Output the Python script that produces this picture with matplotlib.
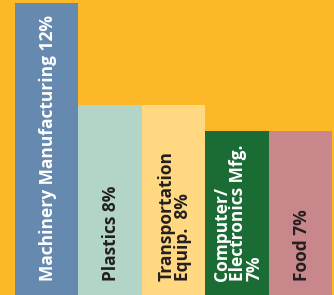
import matplotlib
matplotlib.use("Agg")
import matplotlib.pyplot as plt

labels = ["Machinery Manufacturing 12%", "Plastics 8%", "Transportation\nEquip.  8%",
          "Computer/\nElectronics Mfg.\n7%", "Food 7%"]
values = [12, 8, 8, 7, 7]
colors = ["#6689B0", "#B3D5C8", "#FFD881", "#1B6B34", "#C8878A"]
text_colors = ["white", "#231F20", "#231F20", "white", "#231F20"]

fig = plt.figure(figsize=(3.34, 2.95), dpi=100)
fig.patch.set_facecolor("#FDB827")
ax = fig.add_axes([0, 0, 1, 1])
ax.set_facecolor("#FDB827")

x = list(range(len(values)))
ax.bar(x, values, width=1.0, color=colors, linewidth=0)
ax.set_xlim(-0.737, 4.53)
ax.set_ylim(0.55, 12.12)
ax.axis("off")

for i, lab in enumerate(labels):
    ax.text(i + 0.02, 1.1, lab, rotation=90, rotation_mode="anchor",
            ha="left", va="center", multialignment="left",
            color=text_colors[i], fontsize=12.5, fontweight="bold",
            family=["Open Sans", "DejaVu Sans"], linespacing=0.88)

fig.savefig("out.png", dpi=100, facecolor=fig.get_facecolor())
